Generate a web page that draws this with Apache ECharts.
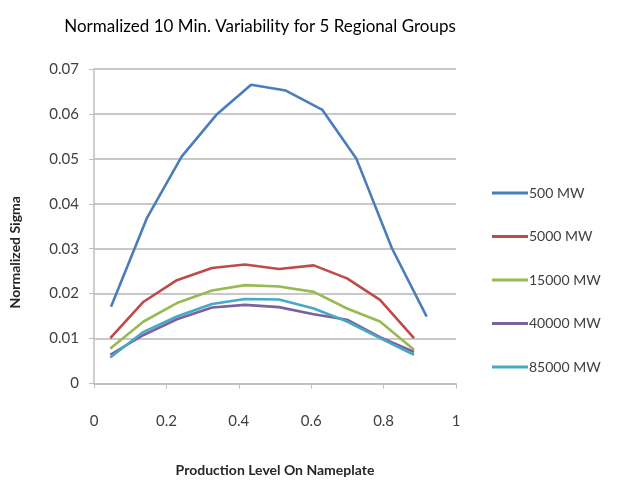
<!DOCTYPE html>
<html>
<head>
<meta charset="utf-8">
<script src="https://cdn.jsdelivr.net/npm/echarts@6/dist/echarts.min.js"></script>
<style>html,body{margin:0;padding:0;background:#fff}#c{width:622px;height:483px}</style>
</head>
<body>
<div id="c"></div>
<script>
var seriesNames = ['500 MW', '5000 MW', '15000 MW', '40000 MW', '85000 MW'];
var xBlue = [0.047, 0.146, 0.242, 0.338, 0.434, 0.530, 0.631, 0.725, 0.823, 0.919];
var xOthers = [0.045, 0.137, 0.229, 0.326, 0.417, 0.511, 0.607, 0.699, 0.790, 0.884];
var y500 = [0.0171, 0.0368, 0.0505, 0.0598, 0.0665, 0.0652, 0.0609, 0.0500, 0.0301, 0.0149];
var y5000 = [0.0101, 0.0182, 0.0230, 0.0257, 0.0265, 0.0255, 0.0263, 0.0234, 0.0186, 0.0101];
var y15000 = [0.0078, 0.0138, 0.0179, 0.0207, 0.0219, 0.0216, 0.0204, 0.0167, 0.0138, 0.0075];
var y40000 = [0.0064, 0.0108, 0.0143, 0.0169, 0.0175, 0.0170, 0.0154, 0.0142, 0.0103, 0.0070];
var y85000 = [0.0058, 0.0115, 0.0149, 0.0177, 0.0188, 0.0187, 0.0167, 0.0138, 0.0101, 0.0064];
var colors = ['#4a7ebb', '#be4b48', '#98b954', '#7d60a0', '#46aac5'];

function pairs(xs, ys) { return xs.map(function (x, i) { return [x, ys[i]]; }); }
var allData = [pairs(xBlue, y500), pairs(xOthers, y5000), pairs(xOthers, y15000), pairs(xOthers, y40000), pairs(xOthers, y85000)];

var chart = echarts.init(document.getElementById('c'));
var font = 'Lato, "Open Sans", sans-serif';
chart.setOption({
  animation: false,
  color: colors,
  title: {
    text: 'Normalized 10 Min. Variability for 5 Regional Groups',
    left: 255, top: 13, textAlign: 'center',
    textStyle: { fontFamily: font, fontSize: 17, fontWeight: 'normal', color: '#000' }
  },
  legend: {
    orient: 'vertical', left: 487, top: 181,
    itemWidth: 36, itemHeight: 3, itemGap: 29.5, icon: 'rect',
    textStyle: { fontFamily: font, fontSize: 14, color: '#404040', padding: [0, 0, 0, -4] },
    data: seriesNames
  },
  grid: { left: 92, right: 166, top: 69, bottom: 99.5 },
  xAxis: {
    type: 'value', min: 0, max: 1, interval: 0.2,
    name: 'Production Level On Nameplate', nameLocation: 'middle', nameGap: 80,
    nameTextStyle: { fontFamily: font, fontSize: 14, fontWeight: 'bold', color: '#262626' },
    axisLine: { lineStyle: { color: '#bfbfbf', width: 1.5 } },
    axisTick: { show: true, length: 5, lineStyle: { color: '#bfbfbf' } },
    axisLabel: { margin: 30, fontFamily: font, fontSize: 15, color: '#404040',
      formatter: function (v) { return v === 0 ? '0' : (v === 1 ? '1' : v.toFixed(1)); } },
    splitLine: { show: false }
  },
  yAxis: {
    type: 'value', min: 0, max: 0.07, interval: 0.01,
    name: 'Normalized Sigma', nameLocation: 'middle', nameGap: 72, nameRotate: 90,
    nameTextStyle: { fontFamily: font, fontSize: 14, fontWeight: 'bold', color: '#262626', padding: [0, 52, 0, 0] },
    axisLine: { show: true, lineStyle: { color: '#bfbfbf', width: 1.5 } },
    axisTick: { show: true, length: 5, lineStyle: { color: '#bfbfbf' } },
    axisLabel: { margin: 15, fontFamily: font, fontSize: 15, color: '#404040',
      formatter: function (v) { return v === 0 ? '0' : v.toFixed(2); } },
    splitLine: { lineStyle: { color: '#c8c8c8', width: 2 } }
  },
  series: seriesNames.map(function (n, i) {
    return { name: n, type: 'line', data: allData[i], showSymbol: false, symbol: 'none',
      lineStyle: { width: 2.6, color: colors[i] } };
  })
});
</script>
</body>
</html>
